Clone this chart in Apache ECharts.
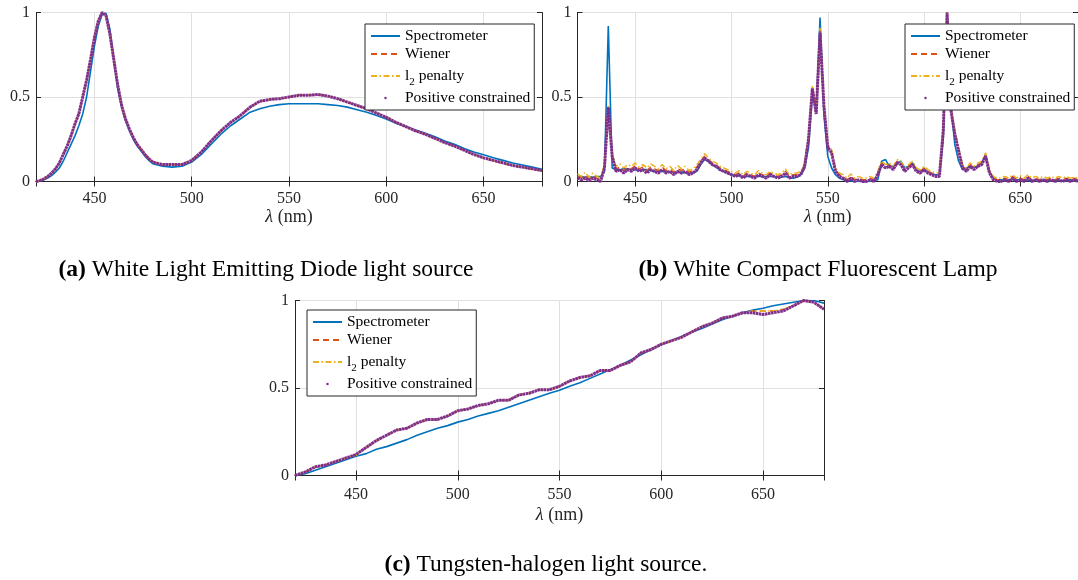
<!DOCTYPE html>
<html>
<head>
<meta charset="utf-8">
<script src="https://cdn.jsdelivr.net/npm/echarts@6/dist/echarts.min.js"></script>
<style>
  html, body { margin: 0; padding: 0; background: #fff; }
  #chart { width: 1078px; height: 580px; }
</style>
</head>
<body>
<div id="chart"></div>
<script>
// ---- (a) white LED ----
const wlA = [420, 422, 424, 426, 428, 430, 432, 434, 436, 438, 440, 442, 444, 446, 448, 450,
  452, 454, 456, 458, 460, 462, 464, 466, 468, 470, 472, 474, 476, 478, 480,
  485, 490, 495, 500, 505, 510, 515, 520, 525, 530, 535, 540, 545, 550, 555, 560, 565, 570,
  575, 580, 585, 590, 595, 600, 605, 610, 615, 620, 625, 630, 635, 640, 645, 650, 655, 660,
  665, 670, 675, 680];
const specA = [0, 0.005, 0.01, 0.02, 0.035, 0.055, 0.08, 0.12, 0.17, 0.22, 0.27, 0.33, 0.4, 0.5, 0.65, 0.8,
  0.92, 0.99, 0.995, 0.9, 0.72, 0.55, 0.44, 0.36, 0.3, 0.25, 0.21, 0.18, 0.15, 0.125, 0.105,
  0.09, 0.085, 0.09, 0.115, 0.16, 0.22, 0.28, 0.33, 0.37, 0.41, 0.43, 0.445, 0.455, 0.46, 0.46, 0.46, 0.46, 0.455,
  0.45, 0.44, 0.425, 0.41, 0.39, 0.37, 0.345, 0.325, 0.305, 0.285, 0.265, 0.24, 0.22, 0.195, 0.175, 0.158, 0.14, 0.125,
  0.11, 0.098, 0.085, 0.072];
const wienerA = [0, 0.005, 0.015, 0.03, 0.05, 0.075, 0.11, 0.16, 0.21, 0.27, 0.34, 0.4, 0.5, 0.6, 0.72, 0.85,
  0.95, 1.0, 0.98, 0.87, 0.72, 0.57, 0.45, 0.37, 0.31, 0.26, 0.22, 0.19, 0.16, 0.135, 0.115,
  0.1, 0.1, 0.1, 0.125, 0.175, 0.24, 0.3, 0.35, 0.39, 0.44, 0.475, 0.485, 0.49, 0.5, 0.51, 0.51, 0.515, 0.505,
  0.49, 0.47, 0.45, 0.43, 0.405, 0.38, 0.35, 0.325, 0.3, 0.28, 0.255, 0.23, 0.21, 0.185, 0.16, 0.138, 0.122, 0.108,
  0.093, 0.083, 0.072, 0.063];
const l2A = [0, 0.006, 0.016, 0.031, 0.05, 0.076, 0.11, 0.16, 0.21, 0.27, 0.34, 0.4, 0.5, 0.6, 0.72, 0.85,
  0.95, 1.0, 0.98, 0.87, 0.72, 0.57, 0.45, 0.37, 0.31, 0.26, 0.22, 0.19, 0.16, 0.135, 0.115,
  0.1, 0.1, 0.1, 0.125, 0.175, 0.24, 0.3, 0.35, 0.39, 0.44, 0.475, 0.485, 0.49, 0.5, 0.51, 0.51, 0.515, 0.505,
  0.49, 0.47, 0.45, 0.43, 0.405, 0.38, 0.35, 0.325, 0.3, 0.28, 0.255, 0.23, 0.21, 0.185, 0.16, 0.14, 0.124, 0.11,
  0.095, 0.085, 0.074, 0.065];
const posA = [0, 0.005, 0.015, 0.03, 0.05, 0.075, 0.11, 0.16, 0.21, 0.27, 0.34, 0.4, 0.5, 0.6, 0.72, 0.85,
  0.95, 1.0, 0.98, 0.87, 0.72, 0.57, 0.45, 0.37, 0.31, 0.26, 0.22, 0.19, 0.16, 0.135, 0.115,
  0.1, 0.1, 0.1, 0.125, 0.175, 0.24, 0.3, 0.35, 0.39, 0.44, 0.475, 0.485, 0.49, 0.5, 0.51, 0.51, 0.515, 0.505,
  0.49, 0.47, 0.45, 0.43, 0.405, 0.38, 0.35, 0.325, 0.3, 0.28, 0.255, 0.23, 0.21, 0.185, 0.16, 0.14, 0.125, 0.11,
  0.095, 0.085, 0.075, 0.065];

// ---- (b) compact fluorescent lamp, 2 nm steps 420..680 ----
const wlB = [420, 422, 424, 426, 428, 430, 432, 434, 436, 438, 440, 442, 444, 446, 448, 450, 452, 454, 456, 458,
  460, 462, 464, 466, 468, 470, 472, 474, 476, 478, 480, 482, 484, 486, 488, 490, 492, 494, 496, 498,
  500, 502, 504, 506, 508, 510, 512, 514, 516, 518, 520, 522, 524, 526, 528, 530, 532, 534, 536, 538,
  540, 542, 544, 546, 548, 550, 552, 554, 556, 558, 560, 562, 564, 566, 568, 570, 572, 574, 576, 578,
  580, 582, 584, 586, 588, 590, 592, 594, 596, 598, 600, 602, 604, 606, 608, 610, 612, 614, 616, 618,
  620, 622, 624, 626, 628, 630, 632, 634, 636, 638, 640, 642, 644, 646, 648, 650, 652, 654, 656, 658,
  660, 662, 664, 666, 668, 670, 672, 674, 676, 678, 680];
const specB = [0.03, 0.03, 0.025, 0.03, 0.025, 0.03, 0.03, 0.06, 0.92, 0.08, 0.07, 0.07, 0.075, 0.075, 0.07, 0.07, 0.065, 0.07, 0.07, 0.065,
  0.06, 0.06, 0.06, 0.06, 0.055, 0.055, 0.055, 0.055, 0.05, 0.05, 0.05, 0.06, 0.1, 0.13, 0.12, 0.1, 0.085, 0.07, 0.06, 0.05,
  0.04, 0.035, 0.035, 0.03, 0.03, 0.03, 0.03, 0.03, 0.03, 0.03, 0.03, 0.03, 0.025, 0.025, 0.03, 0.025, 0.02, 0.025, 0.04, 0.08,
  0.2, 0.52, 0.42, 0.97, 0.4, 0.15, 0.08, 0.04, 0.02, 0.01, 0.005, 0.005, 0, 0, 0, 0, 0, 0.005, 0.01, 0.12,
  0.13, 0.09, 0.09, 0.11, 0.12, 0.08, 0.09, 0.11, 0.07, 0.06, 0.07, 0.06, 0.045, 0.04, 0.04, 0.25, 1.0, 0.45, 0.22, 0.12,
  0.07, 0.08, 0.09, 0.085, 0.09, 0.11, 0.16, 0.06, 0.02, 0.01, 0.01, 0.005, 0.01, 0.01, 0.01, 0.01, 0.01, 0.005, 0.005, 0.01,
  0.01, 0.005, 0.01, 0.005, 0.01, 0.005, 0.005, 0.005, 0.01, 0.005, 0.005];
const wienerB = [0.03, 0.02, 0.035, 0.015, 0.03, 0.02, 0.01, 0.09, 0.44, 0.16, 0.075, 0.085, 0.065, 0.085, 0.075, 0.095, 0.075, 0.085, 0.065, 0.085,
  0.075, 0.065, 0.085, 0.065, 0.075, 0.055, 0.075, 0.065, 0.075, 0.055, 0.065, 0.085, 0.12, 0.15, 0.13, 0.11, 0.1, 0.08, 0.07, 0.06,
  0.05, 0.04, 0.05, 0.03, 0.05, 0.04, 0.03, 0.05, 0.04, 0.03, 0.05, 0.04, 0.03, 0.04, 0.06, 0.03, 0.04, 0.04, 0.05, 0.1,
  0.26, 0.56, 0.41, 0.9, 0.46, 0.21, 0.18, 0.07, 0.04, 0.03, 0.01, 0.03, 0.01, 0.02, 0.01, 0.01, 0.02, 0.01, 0.05, 0.11,
  0.09, 0.1, 0.08, 0.12, 0.11, 0.07, 0.09, 0.11, 0.07, 0.06, 0.08, 0.06, 0.05, 0.04, 0.04, 0.31, 1.0, 0.43, 0.29, 0.19,
  0.09, 0.07, 0.1, 0.08, 0.1, 0.11, 0.16, 0.06, 0.02, 0.01, 0.01, 0.02, 0.01, 0.03, 0.01, 0.02, 0.01, 0.03, 0.01, 0.02,
  0.01, 0.02, 0.01, 0.02, 0.01, 0.02, 0.01, 0.02, 0.01, 0.02, 0.01];
const l2B = [0.045, 0.03, 0.055, 0.025, 0.05, 0.03, 0.02, 0.1, 0.45, 0.17, 0.09, 0.105, 0.08, 0.1, 0.09, 0.11, 0.085, 0.1, 0.08, 0.105,
  0.09, 0.075, 0.1, 0.075, 0.09, 0.065, 0.095, 0.075, 0.09, 0.065, 0.075, 0.1, 0.13, 0.165, 0.14, 0.12, 0.11, 0.09, 0.08, 0.07,
  0.06, 0.05, 0.065, 0.04, 0.06, 0.05, 0.04, 0.065, 0.05, 0.04, 0.06, 0.05, 0.04, 0.05, 0.075, 0.04, 0.05, 0.05, 0.06, 0.11,
  0.27, 0.57, 0.42, 0.91, 0.47, 0.22, 0.19, 0.08, 0.05, 0.04, 0.02, 0.045, 0.02, 0.03, 0.02, 0.02, 0.03, 0.02, 0.06, 0.12,
  0.1, 0.11, 0.09, 0.13, 0.12, 0.08, 0.1, 0.12, 0.08, 0.07, 0.09, 0.07, 0.06, 0.05, 0.05, 0.32, 1.0, 0.44, 0.3, 0.2,
  0.1, 0.08, 0.11, 0.09, 0.11, 0.12, 0.17, 0.07, 0.03, 0.02, 0.02, 0.03, 0.02, 0.04, 0.02, 0.035, 0.02, 0.04, 0.02, 0.03,
  0.02, 0.03, 0.02, 0.03, 0.02, 0.03, 0.02, 0.03, 0.02, 0.025, 0.02];
const posB = [0.02, 0.01, 0.02, 0.005, 0.02, 0.01, 0, 0.08, 0.44, 0.15, 0.06, 0.07, 0.05, 0.07, 0.06, 0.08, 0.06, 0.07, 0.05, 0.07,
  0.06, 0.05, 0.07, 0.05, 0.06, 0.04, 0.06, 0.05, 0.06, 0.04, 0.05, 0.07, 0.11, 0.14, 0.12, 0.1, 0.09, 0.07, 0.06, 0.05,
  0.04, 0.03, 0.04, 0.02, 0.04, 0.03, 0.02, 0.04, 0.03, 0.02, 0.04, 0.03, 0.02, 0.03, 0.05, 0.02, 0.03, 0.03, 0.04, 0.09,
  0.25, 0.55, 0.4, 0.88, 0.45, 0.2, 0.17, 0.06, 0.03, 0.02, 0, 0.02, 0, 0.01, 0, 0, 0.01, 0, 0.04, 0.1,
  0.08, 0.09, 0.07, 0.11, 0.1, 0.06, 0.08, 0.1, 0.06, 0.05, 0.07, 0.05, 0.04, 0.03, 0.03, 0.3, 1.0, 0.42, 0.28, 0.18,
  0.08, 0.06, 0.09, 0.07, 0.09, 0.1, 0.15, 0.05, 0.01, 0, 0, 0.01, 0, 0.02, 0, 0.01, 0, 0.02, 0, 0.01,
  0, 0.01, 0, 0.01, 0, 0.01, 0, 0.01, 0, 0.01, 0];

// ---- (c) tungsten-halogen, 5 nm steps ----
const wlC = [420, 425, 430, 435, 440, 445, 450, 455, 460, 465, 470, 475, 480, 485, 490, 495, 500, 505,
  510, 515, 520, 525, 530, 535, 540, 545, 550, 555, 560, 565, 570, 575, 580, 585, 590, 595, 600, 605,
  610, 615, 620, 625, 630, 635, 640, 645, 650, 655, 660, 665, 670, 675, 680];
const specC = [0, 0.01, 0.03, 0.05, 0.07, 0.09, 0.11, 0.125, 0.15, 0.165, 0.185, 0.205, 0.23, 0.25, 0.27, 0.285, 0.305, 0.32,
  0.34, 0.355, 0.37, 0.39, 0.41, 0.43, 0.45, 0.47, 0.487, 0.51, 0.53, 0.555, 0.58, 0.605, 0.63, 0.66, 0.69, 0.72, 0.747, 0.77,
  0.795, 0.82, 0.84, 0.865, 0.89, 0.91, 0.93, 0.945, 0.956, 0.97, 0.98, 0.99, 1.0, 1.0, 0.985];
const wienerC = [0, 0.02, 0.045, 0.06, 0.08, 0.1, 0.12, 0.16, 0.2, 0.23, 0.26, 0.27, 0.3, 0.32, 0.32, 0.34, 0.37, 0.38,
  0.4, 0.41, 0.43, 0.43, 0.46, 0.47, 0.49, 0.49, 0.51, 0.54, 0.56, 0.57, 0.6, 0.6, 0.63, 0.65, 0.7, 0.72, 0.75, 0.77,
  0.79, 0.82, 0.85, 0.87, 0.9, 0.91, 0.93, 0.94, 0.94, 0.94, 0.95, 0.97, 1.0, 0.99, 0.95];
const l2C = [0, 0.02, 0.05, 0.06, 0.08, 0.1, 0.115, 0.16, 0.2, 0.23, 0.26, 0.27, 0.3, 0.32, 0.32, 0.34, 0.37, 0.38,
  0.4, 0.41, 0.43, 0.43, 0.46, 0.47, 0.49, 0.49, 0.51, 0.54, 0.56, 0.57, 0.6, 0.6, 0.63, 0.65, 0.7, 0.72, 0.75, 0.77,
  0.79, 0.82, 0.85, 0.87, 0.9, 0.91, 0.93, 0.94, 0.94, 0.94, 0.95, 0.97, 1.0, 0.99, 0.95];
const posC = [0, 0.02, 0.05, 0.06, 0.08, 0.1, 0.12, 0.16, 0.2, 0.23, 0.26, 0.27, 0.3, 0.32, 0.32, 0.34, 0.37, 0.38,
  0.4, 0.41, 0.43, 0.43, 0.46, 0.47, 0.49, 0.49, 0.51, 0.54, 0.56, 0.57, 0.6, 0.6, 0.63, 0.65, 0.7, 0.72, 0.75, 0.77,
  0.79, 0.82, 0.85, 0.87, 0.9, 0.91, 0.93, 0.93, 0.92, 0.93, 0.94, 0.97, 1.0, 0.99, 0.95];

const seriesNames = ['Spectrometer', 'Wiener', 'l2 penalty', 'Positive constrained'];
const yTicks = [0, 0.5, 1];
const captions = [
  ['(a)', 'White Light Emitting Diode light source'],
  ['(b)', 'White Compact Fluorescent Lamp'],
  ['(c)', 'Tungsten-halogen light source.']
];

const FONT = 'Liberation Serif';
const INK = '#262626';
const COLORS = ['#0072BD', '#D95319', '#EDB120', '#7E2F8E'];
const dotIcon = 'path://M0,0M30,14M13.7,7a1.3,1.3 0 1,0 2.6,0a1.3,1.3 0 1,0 -2.6,0z';

function zip(xs, ys) {
  return xs.map((x, i) => [x, ys[i]]);
}

function axesFor(gi, labelGap, nameGap) {
  const xBottom = {
    type: 'value', gridIndex: gi, min: 420, max: 680, splitNumber: 5,
    axisLine: { lineStyle: { color: INK, width: 1 } },
    axisTick: { inside: true, length: 5, lineStyle: { color: INK } },
    axisLabel: { color: INK, fontFamily: FONT, fontSize: 16, margin: labelGap, showMinLabel: false, showMaxLabel: false },
    splitLine: { show: true, lineStyle: { color: '#e0e0e0', width: 1 } },
    name: '{i|λ} (nm)', nameLocation: 'middle', nameGap: nameGap,
    nameTextStyle: {
      color: INK, fontFamily: FONT, fontSize: 18,
      rich: { i: { fontFamily: FONT, fontSize: 18, fontStyle: 'italic', color: INK } }
    }
  };
  const xTop = {
    type: 'value', gridIndex: gi, position: 'top', min: 420, max: 680, splitNumber: 5,
    axisLine: { lineStyle: { color: INK, width: 1 } },
    axisTick: { inside: true, length: 5, lineStyle: { color: INK } },
    axisLabel: { show: false }, splitLine: { show: false }
  };
  const yLeft = {
    type: 'value', gridIndex: gi, min: 0, max: 1, interval: 0.5,
    axisLine: { show: true, lineStyle: { color: INK, width: 1 } },
    axisTick: { show: true, inside: true, length: 5, lineStyle: { color: INK } },
    axisLabel: { color: INK, fontFamily: FONT, fontSize: 16, margin: 6,
      formatter: v => (yTicks.indexOf(v) >= 0 ? String(v) : '') },
    splitLine: { show: true, lineStyle: { color: '#e0e0e0', width: 1 } }
  };
  const yRight = {
    type: 'value', gridIndex: gi, position: 'right', min: 0, max: 1, interval: 0.5,
    axisLine: { show: true, lineStyle: { color: INK, width: 1 } },
    axisTick: { show: true, inside: true, length: 5, lineStyle: { color: INK } },
    axisLabel: { show: false }, splitLine: { show: false }
  };
  return { x: [xBottom, xTop], y: [yLeft, yRight] };
}

function seriesFor(gi, wl, spec, wiener, l2, pos) {
  const ax = gi * 2;
  const base = { type: 'line', xAxisIndex: ax, yAxisIndex: ax, symbol: 'none', silent: true, z: 3 };
  return [
    Object.assign({}, base, { name: seriesNames[0], data: zip(wl, spec),
      lineStyle: { color: COLORS[0], width: 1.6 }, itemStyle: { color: COLORS[0] } }),
    Object.assign({}, base, { name: seriesNames[1], data: zip(wl, wiener),
      lineStyle: { color: COLORS[1], width: 1.5, type: [6, 4] }, itemStyle: { color: COLORS[1] } }),
    Object.assign({}, base, { name: seriesNames[2], data: zip(wl, l2),
      lineStyle: { color: COLORS[2], width: 1.5, type: [6, 2.5, 1.5, 2.5] }, itemStyle: { color: COLORS[2] } }),
    Object.assign({}, base, { name: seriesNames[3], data: zip(wl, pos),
      lineStyle: { color: COLORS[3], width: 3, type: [2.6, 0.5] }, itemStyle: { color: COLORS[3] } })
  ];
}

function legendAt(left, top) {
  return {
    left: left, top: top, orient: 'vertical', selectedMode: false,
    itemWidth: 29, itemHeight: 14, itemGap: 2,
    padding: [4, 4, 4, 5],
    backgroundColor: '#fff', borderColor: INK, borderWidth: 1,
    // line samples only: hide the marker the line legend icon adds
    itemStyle: { opacity: 0 },
    data: [
      seriesNames[0], seriesNames[1], seriesNames[2],
      { name: seriesNames[3], icon: dotIcon, itemStyle: { opacity: 1, color: COLORS[3] } }
    ],
    formatter: name => (name === 'l2 penalty' ? '{t|l}{s|2}{t| penalty}' : name),
    textStyle: {
      color: '#000', fontFamily: FONT, fontSize: 15.5, lineHeight: 16,
      rich: {
        t: { fontFamily: FONT, fontSize: 15.5, color: '#000' },
        s: { fontFamily: FONT, fontSize: 11, color: '#000', verticalAlign: 'bottom', lineHeight: 24 }
      }
    }
  };
}

const grids = [
  { left: 36, top: 12.5, width: 506, height: 169 },
  { left: 577.5, top: 12.5, width: 506, height: 169 },
  { left: 295, top: 300.5, width: 529, height: 175 }
];

const xAxes = [], yAxes = [];
[[9, 27], [9, 27], [11, 31]].forEach((gaps, gi) => {
  const a = axesFor(gi, gaps[0], gaps[1]);
  xAxes.push(...a.x);
  yAxes.push(...a.y);
});

const series = [].concat(
  seriesFor(0, wlA, specA, wienerA, l2A, posA),
  seriesFor(1, wlB, specB, wienerB, l2B, posB),
  seriesFor(2, wlC, specC, wienerC, l2C, posC)
);

const captionPos = [[266, 270], [818, 270], [546, 565]];
const graphic = captions.map((c, i) => ({
  type: 'text', x: captionPos[i][0], y: captionPos[i][1], silent: true,
  style: {
    text: '{b|' + c[0] + '} ' + c[1],
    align: 'center', verticalAlign: 'middle',
    font: '23.5px "' + FONT + '"', fill: '#000',
    rich: { b: { fontFamily: FONT, fontSize: 23.5, fontWeight: 'bold', fill: '#000' } }
  }
}));

const chart = echarts.init(document.getElementById('chart'), null, { renderer: 'canvas' });
chart.setOption({
  animation: false,
  backgroundColor: '#fff',
  grid: grids,
  xAxis: xAxes,
  yAxis: yAxes,
  legend: [legendAt(365, 24), legendAt(905, 24), legendAt(307, 310)],
  series: series,
  graphic: graphic
});
</script>
</body>
</html>
